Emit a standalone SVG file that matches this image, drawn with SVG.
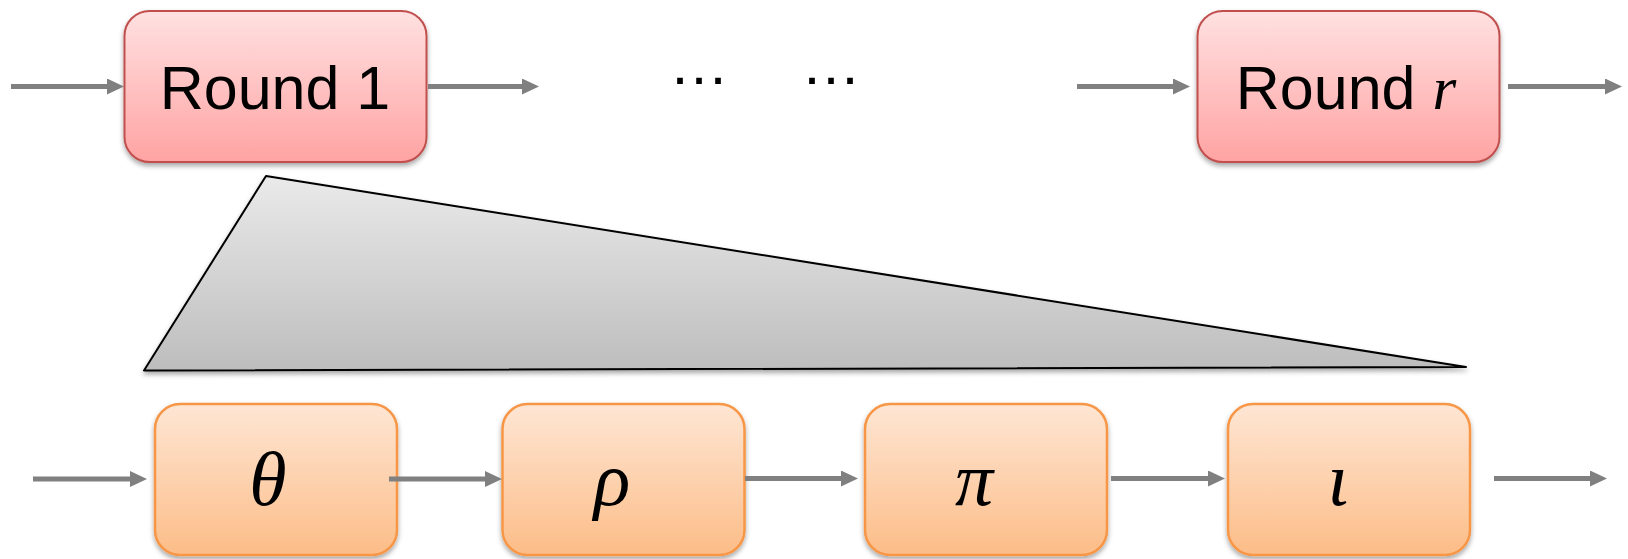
<svg xmlns="http://www.w3.org/2000/svg" width="1628" height="559" viewBox="0 0 1628 559">
  <defs>
    <linearGradient id="gRed" x1="0" y1="0" x2="0" y2="1">
      <stop offset="0" stop-color="#ffe1e1"/>
      <stop offset="1" stop-color="#ffa3a3"/>
    </linearGradient>
    <linearGradient id="gOrange" x1="0" y1="0" x2="0" y2="1">
      <stop offset="0" stop-color="#fee6d4"/>
      <stop offset="1" stop-color="#fcbd88"/>
    </linearGradient>
    <linearGradient id="gGray" x1="0" y1="0" x2="0" y2="1">
      <stop offset="0" stop-color="#eaeaea"/>
      <stop offset="1" stop-color="#bdbdbd"/>
    </linearGradient>
    <filter id="shadow" x="-10%" y="-10%" width="120%" height="130%">
      <feDropShadow dx="0" dy="3" stdDeviation="2.5" flood-color="#000" flood-opacity="0.35"/>
    </filter>
    <marker id="arrow" markerUnits="userSpaceOnUse" markerWidth="17" markerHeight="17" refX="2" refY="8" orient="auto">
      <path d="M0,0 L17,8 L0,16 z" fill="#808080"/>
    </marker>
  </defs>
  <style>
    .round { fill: url(#gRed); stroke: #c0504d; stroke-width: 2; filter: url(#shadow); }
    .step { fill: url(#gOrange); stroke: #f79646; stroke-width: 2.5; filter: url(#shadow); }
    .lbl { font-family: "Liberation Sans", Arial, sans-serif; font-size: 61px; fill: #000; text-anchor: middle; }
    .math { font-family: "Liberation Serif", "Times New Roman", serif; font-style: italic; }
    .greek { font-family: "Liberation Serif", "Times New Roman", serif; font-style: italic; font-size: 76px; fill: #000; text-anchor: middle; }
    .conn line { stroke: #808080; stroke-width: 5; marker-end: url(#arrow); }
  </style>

  <g id="zoom-wedge">
    <polygon points="266,176 144,370.5 1466,367" fill="url(#gGray)" stroke="#000" stroke-width="2" stroke-linejoin="round" filter="url(#shadow)"/>
  </g>

  <g id="round1">
    <rect class="round" x="124.5" y="11" width="302" height="151" rx="25" ry="25"/>
    <text class="lbl" x="275" y="109">Round 1</text>
  </g>

  <g id="ellipsis">
    <text class="lbl" x="699" y="83.5" style="font-size:60px">…</text>
    <text class="lbl" x="831" y="83.5" style="font-size:60px">…</text>
  </g>

  <g id="roundr">
    <rect class="round" x="1197.5" y="11" width="302" height="151" rx="25" ry="25"/>
    <text class="lbl" x="1346" y="109">Round <tspan class="math">r</tspan></text>
  </g>

  <g id="theta">
    <rect class="step" x="155" y="404" width="242" height="151" rx="25" ry="25"/>
    <text class="greek" x="268" y="505">θ</text>
  </g>
  <g id="rho">
    <rect class="step" x="502.5" y="404" width="242" height="151" rx="25" ry="25"/>
    <text class="greek" x="612" y="505">ρ</text>
  </g>
  <g id="pi">
    <rect class="step" x="865" y="404" width="242" height="151" rx="25" ry="25"/>
    <text class="greek" x="974" y="505">π</text>
  </g>
  <g id="iota">
    <rect class="step" x="1228" y="404" width="242" height="151" rx="25" ry="25"/>
    <text class="greek" x="1338" y="505">ι</text>
  </g>

  <g id="connectors" class="conn">
    <line x1="11" y1="86.5" x2="109" y2="86.5"/>
    <line x1="428" y1="86.5" x2="524" y2="86.5"/>
    <line x1="1077" y1="86.5" x2="1175" y2="86.5"/>
    <line x1="1508" y1="86.5" x2="1607" y2="86.5"/>
    <line x1="33" y1="479" x2="132" y2="479"/>
    <line x1="389" y1="479" x2="487" y2="479"/>
    <line x1="745" y1="478.5" x2="843" y2="478.5"/>
    <line x1="1111" y1="478.5" x2="1210" y2="478.5"/>
    <line x1="1494" y1="478.5" x2="1592" y2="478.5"/>
  </g>
</svg>
